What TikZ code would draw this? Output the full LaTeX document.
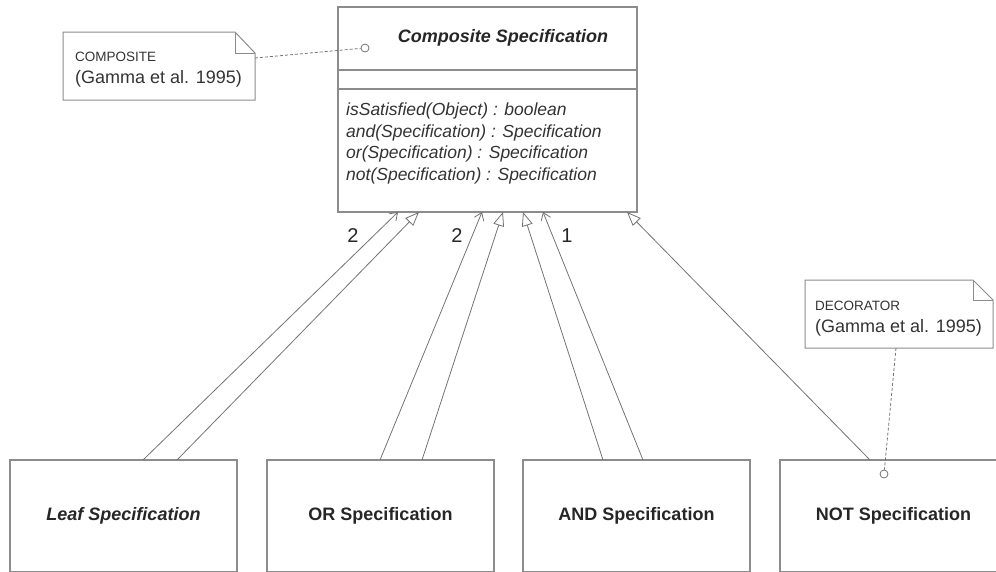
\documentclass[tikz,border=0pt]{standalone}
\usepackage{fontspec}
\setmainfont{Liberation Sans}
\usetikzlibrary{arrows.meta, positioning}
\tikzset{
  classbox/.style={rectangle, draw=black!45, line width=1.1pt, minimum width=299pt, inner sep=0pt, outer sep=0pt},
  specbox/.style={rectangle, draw=black!45, line width=1.1pt, minimum width=227pt, minimum height=112pt, inner sep=0pt, outer sep=0pt, anchor=north west, font=\fontsize{18}{21}\selectfont\bfseries, text=black!85},
  notebox/.style={rectangle, inner sep=0pt, outer sep=0pt, minimum height=68pt},
  notedraw/.style={draw=black!45, line width=1pt},
  notetext/.style={anchor=north west, align=left, inner sep=0pt, font=\fontsize{18}{22}\selectfont, text=black!80},
  dotline/.style={draw=black!55, line width=0.8pt, densely dashed},
  pin/.style={circle, draw=black!55, line width=0.8pt, fill=white, minimum size=8pt, inner sep=0pt},
  navarrow/.style={draw=black!55, line width=0.8pt, -{Straight Barb[length=7pt, width=10pt]}},
  genarrow/.style={draw=black!55, line width=0.8pt, -{Triangle[open, length=14pt, width=11pt, fill=white]}},
  mult/.style={font=\fontsize{20}{22}\selectfont, text=black!85, inner sep=0pt}
}
\begin{document}
\begin{tikzpicture}[x=1pt, y=1pt]
  \clip (0,0) rectangle (996,-571);

  % composite class
  \node[classbox, minimum height=63pt, anchor=north west] (comphead) at (338,-7) {};
  \node[classbox, minimum height=19pt, below=0pt of comphead] (compattr) {};
  \node[classbox, minimum height=123pt, below=0pt of compattr] (compops) {};
  \node[font=\fontsize{18}{21}\selectfont\bfseries\itshape, text=black!85] (comptitle) at (503,-38) {Composite Specification};
  \node[anchor=north west, align=left, inner sep=0pt, font=\fontsize{17.5}{21.7}\selectfont\itshape, text=black!80] (compoptext) at (346,-102.5)
    {isSatisfied(Object) : boolean\\and(Specification) : Specification\\or(Specification) : Specification\\not(Specification) : Specification};

  % concrete specifications
  \node[specbox] (leaf) at (10,-460) {\itshape Leaf Specification};
  \node[specbox] (orspec) at (267,-460) {OR Specification};
  \node[specbox] (andspec) at (523,-460) {AND Specification};
  \node[specbox] (notspec) at (780,-460) {NOT Specification};

  % notes
  \node[notebox, minimum width=192pt] (compnote) at (159,-66) {};
  \draw[notedraw] (compnote.north west) -- ([xshift=-20pt]compnote.north east) -- ([yshift=-21pt]compnote.north east) -- (compnote.south east) -- (compnote.south west) -- cycle;
  \draw[notedraw] ([xshift=-20pt]compnote.north east) |- ([yshift=-21pt]compnote.north east);
  \node[notetext] (compnotetext) at (75,-52.3) {{\fontsize{13.5}{16}\selectfont COMPOSITE}\\(Gamma et al. 1995)};

  \node[notebox, minimum width=188pt] (decnote) at (899,-314) {};
  \draw[notedraw] (decnote.north west) -- ([xshift=-20pt]decnote.north east) -- ([yshift=-20pt]decnote.north east) -- (decnote.south east) -- (decnote.south west) -- cycle;
  \draw[notedraw] ([xshift=-20pt]decnote.north east) |- ([yshift=-20pt]decnote.north east);
  \node[notetext] (decnotetext) at (815,-300.5) {{\fontsize{13.5}{16}\selectfont DECORATOR}\\(Gamma et al. 1995)};

  \node[pin] (compdot) at (365,-48) {};
  \node[pin] (decdot) at (884,-474) {};
  \draw[dotline] ([yshift=8pt]compnote.east) -- (compdot);
  \draw[dotline] ([xshift=-3pt]decnote.south) -- (decdot);

  % associations and generalizations
  \draw[navarrow] ([xshift=133pt]leaf.north west) -- ([xshift=60pt]compops.south west);
  \draw[genarrow] ([xshift=167pt]leaf.north west) -- ([xshift=81pt]compops.south west);
  \draw[navarrow] ([xshift=113pt]orspec.north west) -- ([xshift=144pt]compops.south west);
  \draw[genarrow] ([xshift=155pt]orspec.north west) -- ([xshift=165pt]compops.south west);
  \draw[genarrow] ([xshift=80pt]andspec.north west) -- ([xshift=185pt]compops.south west);
  \draw[navarrow] ([xshift=120pt]andspec.north west) -- ([xshift=205pt]compops.south west);
  \draw[genarrow] ([xshift=90pt]notspec.north west) -- ([xshift=289pt]compops.south west);

  \node[mult] (leafmult) at (353,-236) {2};
  \node[mult] (ormult) at (457,-236) {2};
  \node[mult] (andmult) at (567,-236) {1};
\end{tikzpicture}
\end{document}
